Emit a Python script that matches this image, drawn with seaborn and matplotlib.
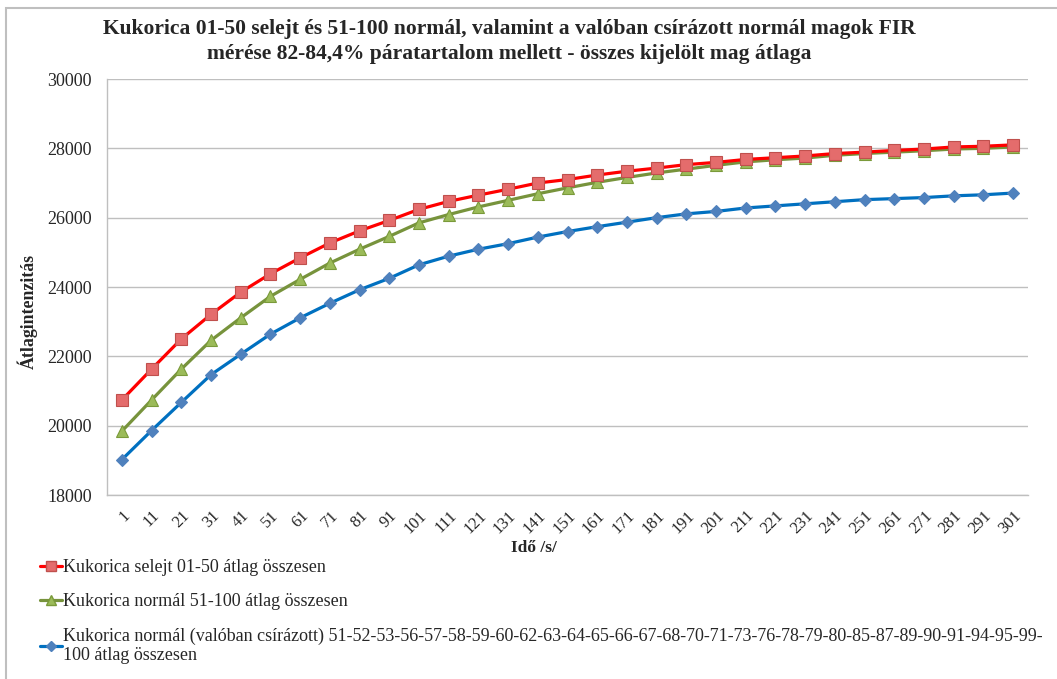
import matplotlib
matplotlib.use("Agg")
import matplotlib.pyplot as plt
import seaborn as sns
import pandas as pd
from matplotlib.lines import Line2D
from matplotlib.patches import Rectangle

# ---- data ----
time_s = list(range(1, 302, 10))
tick_labels = [str(t) for t in time_s]

selejt_01_50 = [20740, 21630, 22500, 23210, 23850, 24380, 24840, 25270, 25620, 25920,
                26240, 26470, 26650, 26820, 27000, 27100, 27230, 27340, 27430, 27530,
                27595, 27680, 27730, 27780, 27850, 27890, 27940, 27980, 28040, 28060, 28100]
normal_51_100 = [19840, 20740, 21630, 22460, 23110, 23730, 24220, 24690, 25090, 25460,
                 25850, 26090, 26310, 26500, 26690, 26860, 27020, 27160, 27290, 27400,
                 27510, 27610, 27670, 27720, 27800, 27850, 27890, 27930, 27980, 28000, 28040]
normal_csirazott = [19020, 19860, 20670, 21470, 22060, 22640, 23110, 23530, 23920, 24250,
                    24640, 24890, 25090, 25250, 25440, 25600, 25740, 25870, 26000, 26110,
                    26180, 26280, 26340, 26400, 26460, 26520, 26550, 26580, 26630, 26660, 26710]

series_names = [
    "Kukorica selejt 01-50 átlag összesen",
    "Kukorica normál 51-100 átlag összesen",
    "Kukorica normál (valóban csírázott) 51-52-53-56-57-58-59-60-62-63-64-65-66-67-68-70-71-73-76-78-79-80-85-87-89-90-91-94-95-99-\n100 átlag összesen",
]
series_values = [selejt_01_50, normal_51_100, normal_csirazott]

title_text = ("Kukorica 01-50 selejt és 51-100 normál, valamint a valóban csírázott normál magok FIR\n"
              "mérése 82-84,4% páratartalom mellett - összes kijelölt mag átlaga")
ylabel_text = "Átlagintenzitás"
xlabel_text = "Idő /s/"

line_colors = ["#FF0000", "#77933C", "#0070C0"]
marker_face = ["#E46C6C", "#9BBB59", "#4F81BD"]
marker_edge = ["#C0504D", "#7A9A3A", "#4F81BD"]
markers = ["s", "^", "D"]
marker_sizes = [8, 8, 6]

# ---- build long frame ----
rows = []
for name, vals in zip(series_names, series_values):
    for t, v in zip(time_s, vals):
        rows.append({"time": t, "value": v, "series": name})
df = pd.DataFrame(rows)

sns.set_style("white")
plt.rcParams["font.family"] = ["Liberation Serif", "DejaVu Serif"]

fig = plt.figure(figsize=(10.57, 6.79), dpi=100)
W, H = 1057, 679
ax = fig.add_axes([107 / W, 1 - 495 / H, (1028 - 107) / W, (495 - 79) / H])

for i, name in enumerate(series_names):
    sub = df[df["series"] == name]
    sns.lineplot(data=sub, x="time", y="value", ax=ax, color=line_colors[i],
                 linewidth=2.3, marker=markers[i], markersize=marker_sizes[i],
                 markerfacecolor=marker_face[i], markeredgecolor=marker_edge[i],
                 markeredgewidth=0.8, legend=False, zorder=3 + (2 - i))

ax.set_xlim(time_s[0] - 5, time_s[-1] + 5)
ax.set_ylim(18000, 30000)
ax.set_yticks(range(18000, 30001, 2000))
ax.set_xticks(time_s)
ax.set_xticklabels(tick_labels, rotation=45, ha="right", rotation_mode="anchor", fontsize=12)
ax.set_xticks([t - 5 for t in time_s] + [time_s[-1] + 5], minor=True)
ax.tick_params(axis="x", which="major", length=0, pad=9)
ax.tick_params(axis="x", which="minor", length=5, color="#BFBFBF", direction="out")
ax.tick_params(axis="y", length=5, color="#BFBFBF", direction="out", labelsize=13, pad=6)
ax.grid(axis="y", color="#BFBFBF", linewidth=1)
ax.set_axisbelow(True)
for s in ["top", "right"]:
    ax.spines[s].set_visible(False)
for s in ["left", "bottom"]:
    ax.spines[s].set_color("#BFBFBF")
    ax.spines[s].set_linewidth(1)
ax.set_xlabel("")
ax.set_ylabel("")

fig.text(509 / W, 1 - 19 / H, title_text, ha="center", va="top", fontsize=15.5,
         fontweight="bold", linespacing=1.3)
fig.text(28 / W, 1 - 312 / H, ylabel_text, ha="center", va="center", rotation=90,
         fontsize=12.8, fontweight="bold")
fig.text(534 / W, 1 - 548 / H, xlabel_text, ha="center", va="center", fontsize=12.5,
         fontweight="bold")

handles = [Line2D([0], [0], color=line_colors[i], linewidth=2.3, marker=markers[i],
                  markersize=marker_sizes[i] - 1, markerfacecolor=marker_face[i],
                  markeredgecolor=marker_edge[i]) for i in range(3)]
leg = fig.legend(handles, series_names, loc="upper left", bbox_to_anchor=(40 / W, 1 - 559 / H),
                 frameon=False, fontsize=13, handlelength=1.2, handletextpad=0.1,
                 labelspacing=0.95, borderaxespad=0, borderpad=0)

fig.patches.append(Rectangle((6 / W, -0.05), 1.2, 1.05 - 8 / H, transform=fig.transFigure,
                             fill=False, edgecolor="#BFBFBF", linewidth=1.5))

fig.savefig("out.png", dpi=100)
